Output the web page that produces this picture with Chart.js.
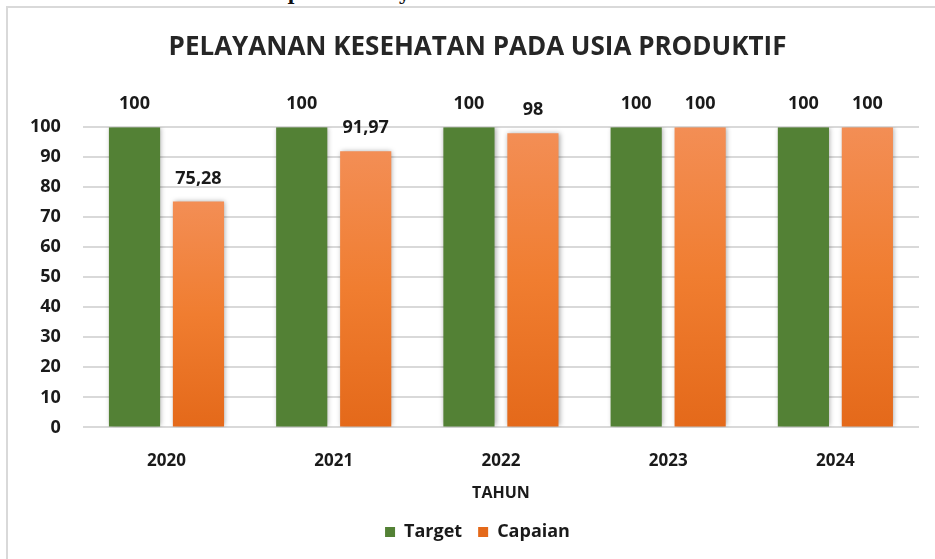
<!DOCTYPE html>
<html>
<head>
<meta charset="utf-8">
<script src="https://cdn.jsdelivr.net/npm/chart.js@4.4.1/dist/chart.umd.min.js"></script>
<style>
    html, body { margin: 0; padding: 0; background: #fff; }
    #wrap { position: relative; width: 935px; height: 559px; overflow: hidden; }
    #caption {
        position: absolute; left: 0; top: 0; width: 935px; height: 6px; overflow: hidden;
    }
    #caption span {
        position: absolute; left: 188px; top: -18px; white-space: nowrap;
        font: bold 19px "DejaVu Serif", serif; color: #111;
    }
    #frame {
        position: absolute; left: 6px; top: 6px; width: 940px; height: 600px;
        border-top: 2px solid #d9d9d9; border-left: 2px solid #d9d9d9;
    }
    canvas { position: absolute; left: 0; top: 0; }
</style>
</head>
<body>
<div id="wrap">
    <div id="caption"><span>Grafik Capaian Pelayanan Usia Produktif Tahun 2020-2024</span></div>
    <div id="frame"></div>
    <canvas id="chart" width="935" height="559"></canvas>
</div>
<script>
const years = ["2020", "2021", "2022", "2023", "2024"];
const target = [100, 100, 100, 100, 100];
const capaian = [75.28, 91.97, 98, 100, 100];
const chartTitle = "PELAYANAN KESEHATAN PADA USIA PRODUKTIF";
const axisTitle = "TAHUN";

const FONT = '"Open Sans", "Noto Sans", sans-serif';

const formatValue = (v) => String(v).replace(".", ",");

function orangeFill(context) {
    const chart = context.chart;
    const y = chart.scales.y;
    if (!chart.chartArea || !y || context.parsed === undefined) {
        return "#f07f35";
    }
    const top = y.getPixelForValue(context.parsed.y);
    const bottom = y.getPixelForValue(0);
    const grad = chart.ctx.createLinearGradient(0, top, 0, bottom);
    grad.addColorStop(0, "#f38e55");
    grad.addColorStop(0.5, "#f07d30");
    grad.addColorStop(1, "#e4691a");
    return grad;
}

// title and legend sit a little right of the canvas centre in the original
const centreShift = {
    id: "centreShift",
    afterLayout(chart) {
        const dx = 14;
        [chart.titleBlock, chart.legend].forEach((box) => {
            if (!box) return;
            box.left += dx;
            box.right += dx;
        });
        if (chart.legend && chart.legend.adjustHitBoxes) {
            chart.legend.adjustHitBoxes();
        }
    },
};

const barShadow = {
    id: "barShadow",
    beforeDatasetsDraw(chart) {
        const ctx = chart.ctx;
        ctx.save();
        ctx.shadowColor = "rgba(0, 0, 0, 0.35)";
        ctx.shadowBlur = 5;
        ctx.shadowOffsetX = 1;
        ctx.shadowOffsetY = 0;
    },
    afterDatasetsDraw(chart) {
        chart.ctx.restore();
    },
};

const valueLabels = {
    id: "valueLabels",
    afterDatasetsDraw(chart) {
        const ctx = chart.ctx;
        ctx.save();
        ctx.font = `bold 18px ${FONT}`;
        ctx.fillStyle = "#1a1a1a";
        ctx.textAlign = "center";
        ctx.textBaseline = "middle";
        chart.data.datasets.forEach((ds, i) => {
            const meta = chart.getDatasetMeta(i);
            meta.data.forEach((bar, j) => {
                ctx.fillText(formatValue(ds.data[j]), bar.x, bar.y - 23);
            });
        });
        ctx.restore();
    },
};

new Chart(document.getElementById("chart"), {
    type: "bar",
    data: {
        labels: years,
        datasets: [
            {
                label: "Target",
                data: target,
                backgroundColor: "#538135",
            },
            {
                label: "Capaian",
                data: capaian,
                backgroundColor: orangeFill,
            },
        ],
    },
    options: {
        responsive: false,
        animation: false,
        categoryPercentage: 0.765,
        barPercentage: 0.8,
        layout: {
            padding: { left: 8, right: 16, top: 0, bottom: 8 },
        },
        scales: {
            x: {
                grid: { display: false },
                border: { display: false },
                ticks: {
                    color: "#1a1a1a",
                    font: { family: FONT, size: 17, weight: "bold" },
                    padding: 16,
                },
                title: {
                    display: true,
                    text: axisTitle,
                    color: "#1a1a1a",
                    font: { family: FONT, size: 16, weight: "bold" },
                    padding: { top: -4, bottom: 4 },
                },
            },
            y: {
                min: 0,
                max: 100,
                ticks: {
                    stepSize: 10,
                    color: "#1a1a1a",
                    font: { family: FONT, size: 18, weight: "bold" },
                    padding: 22,
                },
                grid: { color: "#d9d9d9", lineWidth: 2, drawTicks: false },
                border: { display: false },
            },
        },
        plugins: {
            title: {
                display: true,
                text: chartTitle,
                color: "#262626",
                font: { family: FONT, size: 26, weight: "bold" },
                padding: { top: 32, bottom: 64 },
            },
            legend: {
                position: "bottom",
                labels: {
                    color: "#1a1a1a",
                    font: { family: FONT, size: 18, weight: "bold" },
                    boxWidth: 10,
                    boxHeight: 10,
                    padding: 16,
                },
            },
            tooltip: { enabled: false },
        },
    },
    plugins: [centreShift, barShadow, valueLabels],
});
</script>
</body>
</html>
